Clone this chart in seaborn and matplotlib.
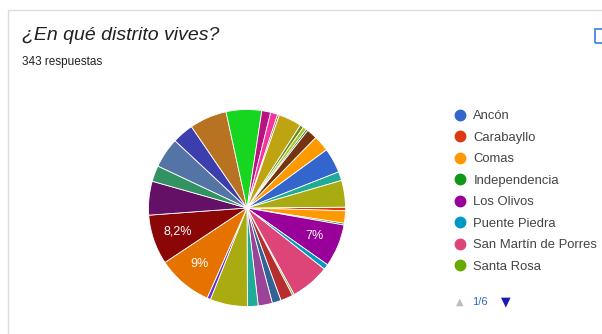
import matplotlib
matplotlib.use('Agg')
import matplotlib.pyplot as plt
from matplotlib.lines import Line2D
from matplotlib.patches import Rectangle
import seaborn as sns

TITLE = '¿En qué distrito vives?'
SUBTITLE = '343 respuestas'
PAGER = '1/6'

LEGEND_NAMES = ['Ancón', 'Carabayllo', 'Comas', 'Independencia', 'Los Olivos',
                'Puente Piedra', 'San Martín de Porres', 'Santa Rosa']

# slices in clockwise order, starting near 3 o'clock; only the first legend page is named
SLICE_NAMES = (['Carabayllo', 'Comas', 'Independencia', 'Los Olivos', 'Puente Piedra',
                'San Martín de Porres', 'Santa Rosa']
               + [f'Opción {i}' for i in range(9, 32)]
               + ['Ancón', 'Opción 32', 'Opción 33'])
SLICE_COUNTS = [2, 7, 1, 24, 3, 22, 1, 7, 5, 8, 6, 21, 2, 31, 28, 19, 9, 17, 12, 21,
                20, 5, 4, 1, 13, 2, 2, 1, 6, 9, 14, 5, 15]
SLICE_COLORS = ['#dc3912', '#ff9900', '#109618', '#990099', '#0099c6', '#dd4477', '#66aa00',
                '#b82e2e', '#316395', '#994499', '#22aa99', '#aaaa11', '#6633cc', '#e67300',
                '#8b0707', '#651067', '#329262', '#5574a6', '#3b3eac', '#b77322', '#16d620',
                '#b91383', '#f4359e', '#9c5935', '#bea413', '#668d1c', '#a9c413', '#0c5922',
                '#743411', '#ff9900', '#3366cc', '#22aa99', '#aaaa11']

sns.set_theme(style='white')
plt.rcParams['font.family'] = ['Liberation Sans', 'DejaVu Sans']

W, H = 602, 334
fig = plt.figure(figsize=(W / 100, H / 100), dpi=100)
fig.patch.set_facecolor('white')


def fx(px):
    return px / W


def fy(py):
    return 1 - py / H


# card frame and the cut-off icon at the top right
fig.patches.append(Rectangle((fx(8), -0.1), 1.2, fy(10) + 0.1, transform=fig.transFigure,
                             facecolor='none', edgecolor='#dadce0', lw=1.0, zorder=-5))
fig.patches.append(Rectangle((fx(595), fy(43)), fx(14), 14 / H, transform=fig.transFigure,
                             facecolor='none', edgecolor='#4a86e8', lw=1.3, zorder=-5))

fig.text(fx(22), fy(35), TITLE, fontsize=14, style='italic', color='#202124', va='center')
fig.text(fx(22), fy(62), SUBTITLE, fontsize=8.5, color='#202124', va='center')

cx, cy, r = 247, 208, 98.5
ax = fig.add_axes([fx(cx - r), fy(cy + r), 2 * r / W, 2 * r / H])
ax.set_zorder(2)


def pct_label(p):
    if p < 6.5:
        return ''
    v = round(p, 1)
    return f'{v:g}'.replace('.', ',') + '%'


wedges, _, autotexts = ax.pie(SLICE_COUNTS, colors=SLICE_COLORS, startangle=0.5,
                              counterclock=False, radius=1, autopct=pct_label,
                              pctdistance=0.74,
                              wedgeprops=dict(edgecolor='white', linewidth=0.6),
                              textprops=dict(color='white', fontsize=9))
ax.set_xlim(-1, 1)
ax.set_ylim(-1, 1)
ax.axis('off')

lookup = dict(zip(SLICE_NAMES, SLICE_COLORS))
handles = [Line2D([], [], marker='o', linestyle='', markersize=7.5,
                  markerfacecolor=lookup[n], markeredgecolor=lookup[n]) for n in LEGEND_NAMES]
fig.legend(handles, LEGEND_NAMES, loc='upper left', bbox_to_anchor=(fx(455), fy(110)),
           frameon=False, fontsize=9.4, handlelength=0.8, handletextpad=0.6,
           labelspacing=0.72, borderaxespad=0, borderpad=0, labelcolor='#444444')

fig.text(fx(460), fy(302), '▲', fontsize=7, color='#bdbdbd', ha='center', va='center',
         family='DejaVu Sans')
fig.text(fx(472), fy(302), PAGER, fontsize=8, color='#3366cc', ha='left', va='center')
fig.text(fx(506), fy(302), '▼', fontsize=9, color='#1a1ab0', ha='center', va='center',
         family='DejaVu Sans')

fig.savefig('out.png', dpi=100)
